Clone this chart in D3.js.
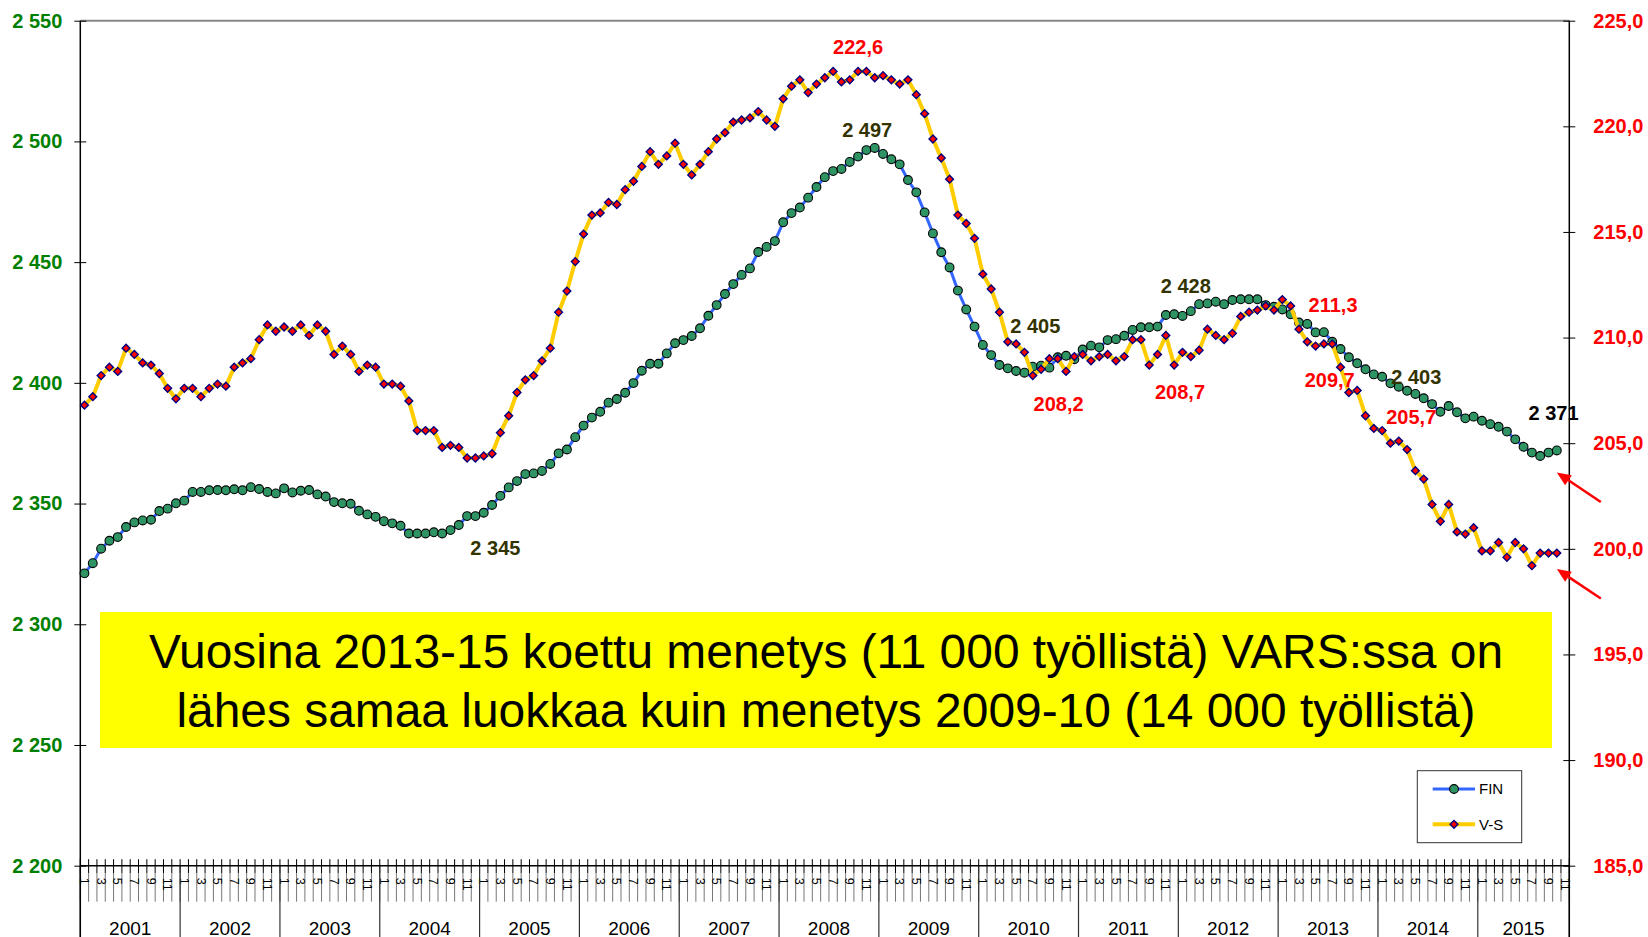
<!DOCTYPE html>
<html><head><meta charset="utf-8">
<script src="https://cdn.jsdelivr.net/npm/d3@7"></script>
<style>
html,body{margin:0;padding:0;background:#fff;}
svg{display:block;font-family:"Liberation Sans",Arial,sans-serif;}
</style></head><body>
<svg id="chart" width="1648" height="937"></svg>
<script>
// ---------------- DATA ----------------
const years = [2001,2002,2003,2004,2005,2006,2007,2008,2009,2010,2011,2012,2013,2014,2015];
const monthsLastYear = 11;
const monthTickLabels = ["1","","3","","5","","7","","9","","11",""];

const finValues = [
2321.1,2325.3,2331.3,2334.6,2336.1,2340.3,2342.2,2343.0,2343.3,2346.9,2347.9,2350.1,
2351.2,2354.8,2354.8,2355.5,2355.6,2355.5,2355.9,2355.5,2356.8,2356.0,2354.8,2354.2,
2356.3,2354.6,2355.3,2355.6,2353.8,2352.9,2350.6,2350.1,2349.9,2347.0,2345.5,2344.5,
2342.7,2341.8,2340.8,2337.6,2337.6,2337.6,2338.1,2337.6,2339.0,2341.1,2344.8,2344.8,
2346.2,2349.4,2353.2,2356.7,2359.3,2362.2,2362.5,2363.5,2366.4,2370.8,2372.4,2377.5,
2382.3,2385.6,2388.0,2391.8,2393.3,2395.9,2399.9,2405.0,2407.9,2407.9,2412.2,2416.4,
2417.7,2419.4,2422.6,2427.8,2432.2,2436.8,2440.9,2444.7,2447.4,2454.2,2456.3,2458.7,
2466.5,2470.3,2472.6,2476.7,2481.1,2485.2,2487.7,2488.6,2491.5,2493.7,2496.4,2497.3,
2494.8,2492.6,2490.5,2484.0,2478.9,2470.6,2461.9,2454.1,2447.8,2438.2,2430.4,2423.3,
2415.7,2411.5,2407.4,2406.0,2404.9,2404.2,2406.7,2407.1,2406.3,2410.6,2411.2,2409.8,
2413.8,2415.4,2414.7,2417.7,2418.1,2419.5,2421.9,2423.0,2423.0,2423.3,2428.1,2428.4,
2427.7,2429.7,2432.6,2432.9,2433.6,2432.6,2434.3,2434.6,2434.6,2434.6,2432.2,2431.5,
2430.4,2428.4,2425.0,2424.4,2420.9,2421.0,2417.0,2414.0,2410.6,2408.1,2405.6,2403.5,
2402.5,2399.8,2398.4,2396.7,2395.4,2393.6,2391.2,2388.0,2390.4,2387.8,2385.3,2386.0,
2384.3,2382.9,2381.8,2379.8,2376.6,2373.5,2371.1,2369.7,2371.1,2372.0
];

const vsValues = [
206.8,207.2,208.2,208.6,208.4,209.5,209.2,208.8,208.7,208.3,207.6,207.1,
207.6,207.6,207.2,207.6,207.8,207.7,208.6,208.8,209.0,209.9,210.6,210.3,
210.5,210.3,210.6,210.1,210.6,210.3,209.2,209.6,209.2,208.4,208.7,208.6,
207.8,207.8,207.7,207.0,205.6,205.6,205.6,204.8,204.9,204.8,204.3,204.3,
204.4,204.5,205.5,206.3,207.4,208.0,208.2,208.9,209.5,211.2,212.2,213.6,
214.9,215.8,215.9,216.4,216.3,217.0,217.4,218.1,218.8,218.2,218.6,219.2,
218.2,217.7,218.2,218.8,219.4,219.7,220.2,220.3,220.4,220.7,220.3,220.0,
221.3,221.9,222.2,221.6,222.0,222.3,222.6,222.1,222.2,222.6,222.6,222.3,
222.4,222.2,222.0,222.2,221.5,220.6,219.4,218.5,217.5,215.8,215.4,214.7,
213.0,212.3,211.2,209.8,209.7,209.3,208.2,208.5,209.0,209.0,208.4,209.1,
209.2,208.9,209.1,209.2,208.9,209.1,209.9,209.9,208.7,209.2,210.1,208.7,
209.3,209.1,209.4,210.4,210.1,209.9,210.2,211.0,211.2,211.3,211.5,211.3,
211.8,211.5,210.4,209.8,209.6,209.7,209.7,208.6,207.4,207.5,206.3,205.7,
205.6,205.0,205.1,204.7,203.7,203.3,202.1,201.3,202.1,200.8,200.7,201.0,
199.9,199.9,200.3,199.6,200.3,200.0,199.2,199.8,199.8,199.8
];

const leftTicks = [2200,2250,2300,2350,2400,2450,2500,2550];
const rightTicks = [185,190,195,200,205,210,215,220,225];

// annotation labels: text, category position, value, axis, colour
const noteTexts  = ["222,6","2 497","2 405","208,2","2 428","208,7","211,3","209,7","2 403","205,7","2 371","2 345"];
const notePos    = [93.0, 94.1, 114.3, 117.1, 132.4, 131.7, 150.1, 149.7, 160.1, 159.5, 176.6, 49.4];
const noteVals   = [223.77, 2504.7, 2423.5, 206.87, 2440.1, 207.42, 211.55, 207.97, 2402.5, 206.25, 2387.4, 2331.7];
const noteAxis   = ["R","L","L","R","L","R","R","R","L","R","L","L"];
const noteColors = ["#ff0000","#333300","#333300","#ff0000","#333300","#ff0000","#ff0000","#ff0000","#333300","#ff0000","#000000","#333300"];

const boxLines = ["Vuosina 2013-15 koettu menetys (11 000 työllistä) VARS:ssa on",
                  "lähes samaa luokkaa kuin menetys 2009-10 (14 000 työllistä)"];
const seriesNames = ["FIN","V-S"];

// ---------------- LAYOUT ----------------
const W = 1648, H = 937;
const L = 80.3, R = 1569.3, T = 20.7, B = 865.7;

const categories = [];
years.forEach((y, yi) => {
  const n = yi === years.length - 1 ? monthsLastYear : 12;
  for (let m = 1; m <= n; m++) categories.push({year: y, month: m});
});

const svg = d3.select("#chart");
const x = d3.scaleBand().domain(categories.map((d, i) => i)).range([L, R]).padding(0);
const cx = i => x(0) + (i + 0.5) * x.bandwidth();
const yL = d3.scaleLinear().domain([2200, 2550]).range([B, T]);
const yR = d3.scaleLinear().domain([185, 225]).range([B, T]);

const loc = d3.formatLocale({decimal: ",", thousands: " ", grouping: [3], currency: ["", ""]});
const fmtL = loc.format(",");
const fmtR = loc.format(".1f");

// plot frame top
svg.append("line").attr("x1", L).attr("x2", R).attr("y1", T).attr("y2", T)
  .attr("stroke", "#888").attr("stroke-width", 2);

// left axis
const gL = svg.append("g").attr("transform", `translate(${L},0)`)
  .call(d3.axisLeft(yL).tickValues(leftTicks).tickFormat(fmtL).tickSizeInner(6).tickSizeOuter(0).tickPadding(12));
gL.select(".domain").remove();
gL.attr("font-family", null).attr("font-size", null);
gL.selectAll(".tick line").attr("x1", 6).attr("x2", -6).attr("stroke", "#000");
gL.selectAll(".tick text").attr("fill", "#008000").attr("font-size", 20).attr("font-weight", "bold");

// right axis
const gR = svg.append("g").attr("transform", `translate(${R},0)`)
  .call(d3.axisRight(yR).tickValues(rightTicks).tickFormat(fmtR).tickSizeInner(6).tickSizeOuter(0).tickPadding(18));
gR.select(".domain").remove();
gR.attr("font-family", null).attr("font-size", null);
gR.selectAll(".tick line").attr("x1", 6).attr("x2", -6).attr("stroke", "#000");
gR.selectAll(".tick text").attr("fill", "#ff0000").attr("font-size", 20).attr("font-weight", "bold");

// category axis
const gx = svg.append("g");
const bounds = categories.map((d, i) => x(i)).concat([R]);
gx.selectAll("line.tk").data(bounds).join("line").attr("class", "tk")
  .attr("x1", d => d).attr("x2", d => d).attr("y1", B - 6.5).attr("y2", B + 7.5)
  .attr("stroke", "#000").attr("stroke-width", 1);
gx.selectAll("line.sep").data(bounds).join("line").attr("class", "sep")
  .attr("x1", d => d).attr("x2", d => d).attr("y1", B + 7.5).attr("y2", B + 36)
  .attr("stroke", "#777").attr("stroke-width", 1);
gx.selectAll("text.mo").data(categories.filter(d => monthTickLabels[d.month - 1] !== ""))
  .join("text").attr("class", "mo")
  .attr("transform", d => `translate(${cx(categories.indexOf(d))},${B + 12}) rotate(90)`)
  .attr("dy", "0.35em").attr("font-size", 12.5).attr("fill", "#000")
  .text(d => monthTickLabels[d.month - 1]);

// year separators and labels
const yearStarts = years.map(y => categories.findIndex(c => c.year === y));
const yearBounds = yearStarts.map(i => x(i)).concat([R]);
gx.selectAll("line.ys").data(yearBounds).join("line").attr("class", "ys")
  .attr("x1", d => d).attr("x2", d => d).attr("y1", B).attr("y2", H)
  .attr("stroke", "#333").attr("stroke-width", 1.2);
gx.selectAll("text.yr").data(years).join("text").attr("class", "yr")
  .attr("x", (y, k) => (yearBounds[k] + yearBounds[k + 1]) / 2)
  .attr("y", 934.5).attr("text-anchor", "middle").attr("font-size", 19).attr("fill", "#000")
  .text(d => d);

// axis lines
svg.append("line").attr("x1", L).attr("x2", L).attr("y1", T).attr("y2", H).attr("stroke", "#000").attr("stroke-width", 1.5);
svg.append("line").attr("x1", R).attr("x2", R).attr("y1", T).attr("y2", H).attr("stroke", "#000").attr("stroke-width", 1.5);
svg.append("line").attr("x1", L).attr("x2", R).attr("y1", B).attr("y2", B).attr("stroke", "#000").attr("stroke-width", 1.5);

// yellow text box
svg.append("rect").attr("x", 100).attr("y", 612).attr("width", 1452).attr("height", 136).attr("fill", "#ffff00");
svg.selectAll("text.box").data(boxLines).join("text").attr("class", "box")
  .attr("x", 826).attr("y", (d, i) => 668.3 + i * 58.4).attr("text-anchor", "middle")
  .attr("font-size", 47.9).attr("fill", "#000").text(d => d);

// series
const diamond = r => `M0,${-r}L${r},0L0,${r}L${-r},0Z`;
const lineFin = d3.line().x((d, i) => cx(i)).y(d => yL(d));
const lineVs = d3.line().x((d, i) => cx(i)).y(d => yR(d));

svg.append("path").datum(finValues).attr("d", lineFin).attr("fill", "none")
  .attr("stroke", "#3366ff").attr("stroke-width", 3);
svg.append("g").selectAll("circle").data(finValues).join("circle")
  .attr("cx", (d, i) => cx(i)).attr("cy", d => yL(d)).attr("r", 4.4)
  .attr("fill", "#2f9464").attr("stroke", "#000").attr("stroke-width", 1.1);

svg.append("path").datum(vsValues).attr("d", lineVs).attr("fill", "none")
  .attr("stroke", "#ffcc00").attr("stroke-width", 4);
svg.append("g").selectAll("path").data(vsValues).join("path")
  .attr("d", diamond(3.9)).attr("transform", (d, i) => `translate(${cx(i)},${yR(d)})`)
  .attr("fill", "#ff0000").attr("stroke", "#000080").attr("stroke-width", 1.4);

// annotation labels
svg.append("g").selectAll("text").data(noteTexts).join("text")
  .attr("x", (d, k) => cx(notePos[k]))
  .attr("y", (d, k) => noteAxis[k] === "L" ? yL(noteVals[k]) : yR(noteVals[k]))
  .attr("dy", "0.35em").attr("text-anchor", "middle").attr("font-size", 20).attr("font-weight", "bold")
  .attr("fill", (d, k) => noteColors[k]).text(d => d);

// arrows pointing to last points
const last = finValues.length - 1;
const arrows = [
  {tx: cx(last), ty: yL(finValues[last]) + 22},
  {tx: cx(last), ty: yR(vsValues[last]) + 16}
];
arrows.forEach(a => {
  const sx = a.tx + 44, sy = a.ty + 29.5;
  const len = Math.hypot(sx - a.tx, sy - a.ty);
  const ux = (a.tx - sx) / len, uy = (a.ty - sy) / len;
  const hl = 14, hw = 6;
  const bx = a.tx - ux * hl, by = a.ty - uy * hl;
  const px = -uy, py = ux;
  svg.append("line").attr("x1", sx).attr("y1", sy).attr("x2", bx).attr("y2", by)
    .attr("stroke", "#ff0000").attr("stroke-width", 2.5);
  svg.append("path").attr("d", `M${a.tx},${a.ty}L${bx + px * hw},${by + py * hw}L${bx - px * hw},${by - py * hw}Z`)
    .attr("fill", "#ff0000");
});

// legend
const lg = svg.append("g");
lg.append("rect").attr("x", 1417.3).attr("y", 770.7).attr("width", 104.4).attr("height", 72)
  .attr("fill", "#fff").attr("stroke", "#333").attr("stroke-width", 1);
const legY = [789, 824.3];
lg.append("line").attr("x1", 1432.7).attr("x2", 1475).attr("y1", legY[0]).attr("y2", legY[0]).attr("stroke", "#3366ff").attr("stroke-width", 3);
lg.append("circle").attr("cx", 1454).attr("cy", legY[0]).attr("r", 4.4).attr("fill", "#2f9464").attr("stroke", "#000").attr("stroke-width", 1.1);
lg.append("line").attr("x1", 1432.7).attr("x2", 1475).attr("y1", legY[1]).attr("y2", legY[1]).attr("stroke", "#ffcc00").attr("stroke-width", 4);
lg.append("path").attr("d", diamond(3.9)).attr("transform", `translate(1454,${legY[1]})`).attr("fill", "#ff0000").attr("stroke", "#000080").attr("stroke-width", 1.4);
lg.selectAll("text").data(seriesNames).join("text")
  .attr("x", 1479).attr("y", (d, i) => legY[i]).attr("dy", "0.35em")
  .attr("font-size", 15).attr("fill", "#000").text(d => d);
</script>
</body></html>
